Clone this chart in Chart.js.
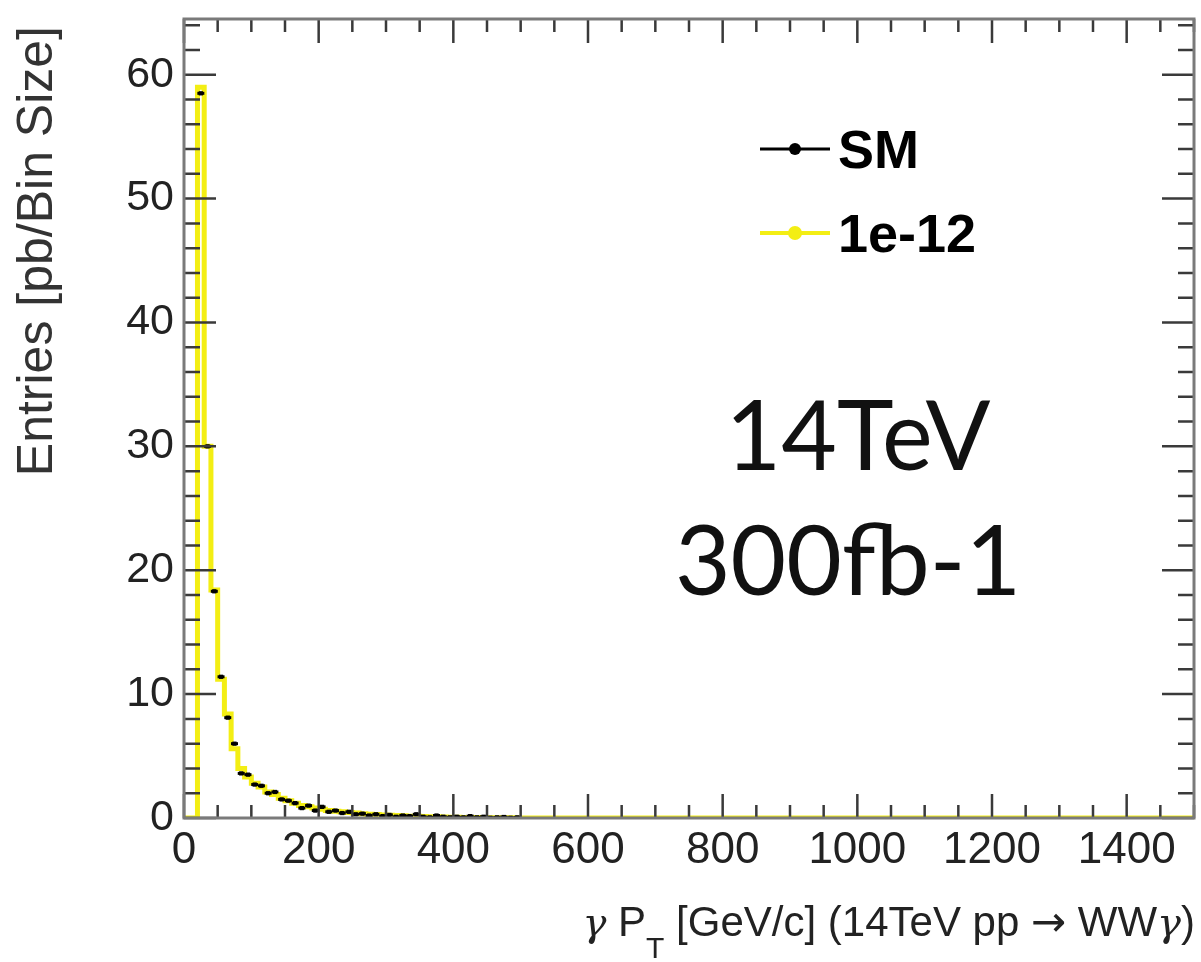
<!DOCTYPE html>
<html>
<head>
<meta charset="utf-8">
<script src="https://cdn.jsdelivr.net/npm/chart.js@4/dist/chart.umd.min.js"></script>
<style>
  body { margin: 0; background: #fff; }
  #wrap { width: 1201px; height: 962px; }
</style>
</head>
<body>
<div id="wrap"><canvas id="myChart"></canvas></div>
<script>
// photon pT, 10 GeV bins (low edges)
const binLowEdges = [0, 10, 20, 30, 40, 50, 60, 70, 80, 90,
  100, 110, 120, 130, 140, 150, 160, 170, 180, 190,
  200, 210, 220, 230, 240, 250, 260, 270, 280, 290,
  300, 310, 320, 330, 340, 350, 360, 370, 380, 390,
  400, 410, 420, 430, 440, 450, 460, 470, 480, 490]
const binWidth = 10
const xEnd = 1500

// 1e-12 (yellow histogram)
const bsmValues = [0, 0, 59.0, 30.0, 18.4, 11.2, 8.4, 5.6, 4.0, 3.3,
  2.8, 2.5, 2.1, 1.9, 1.6, 1.4, 1.2, 1.0, 0.9, 0.8,
  0.7, 0.6, 0.55, 0.5, 0.45, 0.4, 0.35, 0.3, 0.28, 0.25,
  0.22, 0.2, 0.18, 0.15, 0.14, 0.12, 0.1, 0.1, 0.08, 0.07,
  0.06, 0.05, 0.04, 0.04, 0.03, 0.03, 0.02, 0.02, 0.02, 0.01]

// SM (black markers)
const smValues = [null, null, 58.5, 30.0, 18.3, 11.4, 8.1, 6.0, 3.6, 3.5,
  2.7, 2.6, 2.0, 2.1, 1.5, 1.4, 1.2, 0.8, 1.0, 0.6,
  0.9, 0.5, 0.6, 0.4, 0.5, 0.3, 0.35, 0.2, 0.3, 0.15,
  0.25, 0.1, 0.2, 0.15, 0.3, 0.1, 0.05, 0.2, 0.1, 0.05,
  0.1, 0.05, 0.15, 0.05, 0.1, 0.02, 0.05, 0.08, 0.02, 0.05]

const xTickLabels = [0, 200, 400, 600, 800, 1000, 1200, 1400]
const yTickLabels = [0, 10, 20, 30, 40, 50, 60]
const yMax = 64.5
const minorX = 50
const minorY = 2

const yellow = "#f3ee14"
const sans = "'Liberation Sans', Arial, sans-serif"
const symbolFont = "'DejaVu Serif', serif"

const histPoints = binLowEdges.map((e, i) => ({x: e, y: bsmValues[i]}))
histPoints.push({x: binLowEdges[binLowEdges.length - 1] + binWidth, y: 0})
histPoints.push({x: xEnd, y: 0})
const smPoints = binLowEdges.map((e, i) => ({x: e + binWidth / 2, y: smValues[i]}))

// ROOT-style frame with inward ticks on all four sides
const frameTicks = {
  id: "frameTicks",
  afterDatasetsDraw(chart) {
    const {ctx, chartArea: a, scales: {x, y}} = chart
    ctx.save()
    ctx.strokeStyle = "#3a3a3a"
    ctx.lineWidth = 2.5
    ctx.beginPath()
    for (let v = 0; v <= xEnd; v += minorX) {
      const px = x.getPixelForValue(v)
      const len = xTickLabels.includes(v) ? 24 : 13
      ctx.moveTo(px, a.bottom); ctx.lineTo(px, a.bottom - len)
      ctx.moveTo(px, a.top); ctx.lineTo(px, a.top + len)
    }
    for (let v = 0; v <= yMax; v += minorY) {
      const py = y.getPixelForValue(v)
      const len = yTickLabels.includes(v) ? 32 : 16
      ctx.moveTo(a.left, py); ctx.lineTo(a.left + len, py)
      ctx.moveTo(a.right, py); ctx.lineTo(a.right - len, py)
    }
    ctx.stroke()
    ctx.strokeStyle = "#7a7a7a"
    ctx.lineWidth = 3
    ctx.strokeRect(a.left, a.top, a.right - a.left, a.bottom - a.top)
    ctx.restore()
  }
}

// draws a row of text pieces, right aligned at xRight
function drawPieces(ctx, pieces, xRight, baseline) {
  let total = 0
  pieces.forEach(p => { ctx.font = p.font; p.w = ctx.measureText(p.text).width; total += p.w })
  let cx = xRight - total
  pieces.forEach(p => {
    ctx.font = p.font
    ctx.fillText(p.text, cx, baseline + (p.dy || 0))
    cx += p.w
  })
}

// legend, annotation and axis titles
const labelsPlugin = {
  id: "labelsPlugin",
  afterDraw(chart) {
    const {ctx} = chart
    ctx.save()
    // legend
    const rows = [
      {label: chart.data.datasets[1].label, color: "#000", y: 149, r: 6},
      {label: chart.data.datasets[0].label, color: yellow, y: 233, r: 7}
    ]
    rows.forEach(row => {
      ctx.strokeStyle = row.color
      ctx.fillStyle = row.color
      ctx.lineWidth = row.color === yellow ? 4 : 3
      ctx.beginPath(); ctx.moveTo(760, row.y); ctx.lineTo(830, row.y); ctx.stroke()
      ctx.beginPath(); ctx.arc(795, row.y, row.r, 0, Math.PI * 2); ctx.fill()
      ctx.fillStyle = "#000"
      ctx.font = "bold 54px " + sans
      ctx.textAlign = "left"
      ctx.textBaseline = "middle"
      ctx.fillText(row.label, 838, row.y + 4)
    })

    // energy / luminosity
    ctx.fillStyle = "#111"
    ctx.font = "96px Lato, 'Open Sans', sans-serif"
    ctx.textAlign = "center"
    ctx.textBaseline = "alphabetic"
    ctx.fillText("14TeV", 858, 470)
    ctx.fillText("300fb-1", 848, 595)

    // y title
    ctx.save()
    ctx.translate(38, 26)
    ctx.rotate(-Math.PI / 2)
    ctx.font = "50px " + sans
    ctx.fillStyle = "#333"
    ctx.textAlign = "right"
    ctx.textBaseline = "middle"
    ctx.fillText("Entries [pb/Bin Size]", 0, 0)
    ctx.restore()

    // x title with subscript T
    ctx.fillStyle = "#222"
    ctx.textAlign = "left"
    ctx.textBaseline = "alphabetic"
    const f = "42px " + sans
    drawPieces(ctx, [
      {text: "\u03b3", font: "italic 40px " + symbolFont},
      {text: " P", font: f},
      {text: "T", font: "30px " + sans, dy: 22},
      {text: " [GeV/c] (14TeV pp ", font: f},
      {text: "\u2192", font: "42px 'DejaVu Sans', sans-serif"},
      {text: " WW", font: f},
      {text: "\u03b3", font: "italic 40px " + symbolFont},
      {text: ")", font: f}
    ], 1195, 936)
    ctx.restore()
  }
}

const ctx = document.getElementById("myChart")
new Chart(ctx, {
  type: "line",
  data: {
    datasets: [{
      label: "1e-12",
      data: histPoints,
      borderColor: yellow,
      borderWidth: 5,
      stepped: true,
      pointRadius: 0,
      fill: false,
      order: 3
    }, {
      label: "SM",
      data: smPoints,
      showLine: false,
      pointStyle: "line",
      pointRadius: 3.5,
      pointBorderWidth: 3,
      borderColor: "#000",
      order: 2
    }, {
      label: "SM markers",
      data: smPoints,
      showLine: false,
      pointStyle: "rect",
      pointRadius: 3,
      pointBorderWidth: 0,
      backgroundColor: "#000",
      borderColor: "#000",
      order: 1
    }]
  },
  plugins: [frameTicks, labelsPlugin],
  options: {
    responsive: true,
    maintainAspectRatio: false,
    animation: false,
    layout: {padding: {top: 19, right: 5, left: 0, bottom: 0}},
    plugins: {
      legend: {display: false},
      tooltip: {enabled: false}
    },
    scales: {
      x: {
        type: "linear",
        min: 0,
        max: xEnd,
        grid: {display: false, drawTicks: false},
        border: {display: false},
        ticks: {
          stepSize: 200,
          includeBounds: false,
          maxRotation: 0,
          autoSkip: false,
          padding: 6,
          color: "#222",
          font: {family: sans, size: 44},
          callback: v => String(v)
        },
        afterFit(scale) {
          scale.height = 144
          scale.paddingLeft = 0
          scale.paddingRight = 0
        }
      },
      y: {
        min: 0,
        max: yMax,
        grid: {display: false, drawTicks: false},
        border: {display: false},
        ticks: {
          stepSize: 10,
          includeBounds: false,
          padding: 10,
          color: "#222",
          font: {family: sans, size: 43},
          callback: v => String(v)
        },
        afterFit(scale) {
          scale.width = 184
          scale.paddingTop = 0
          scale.paddingBottom = 0
        }
      }
    }
  }
})
</script>
</body>
</html>
